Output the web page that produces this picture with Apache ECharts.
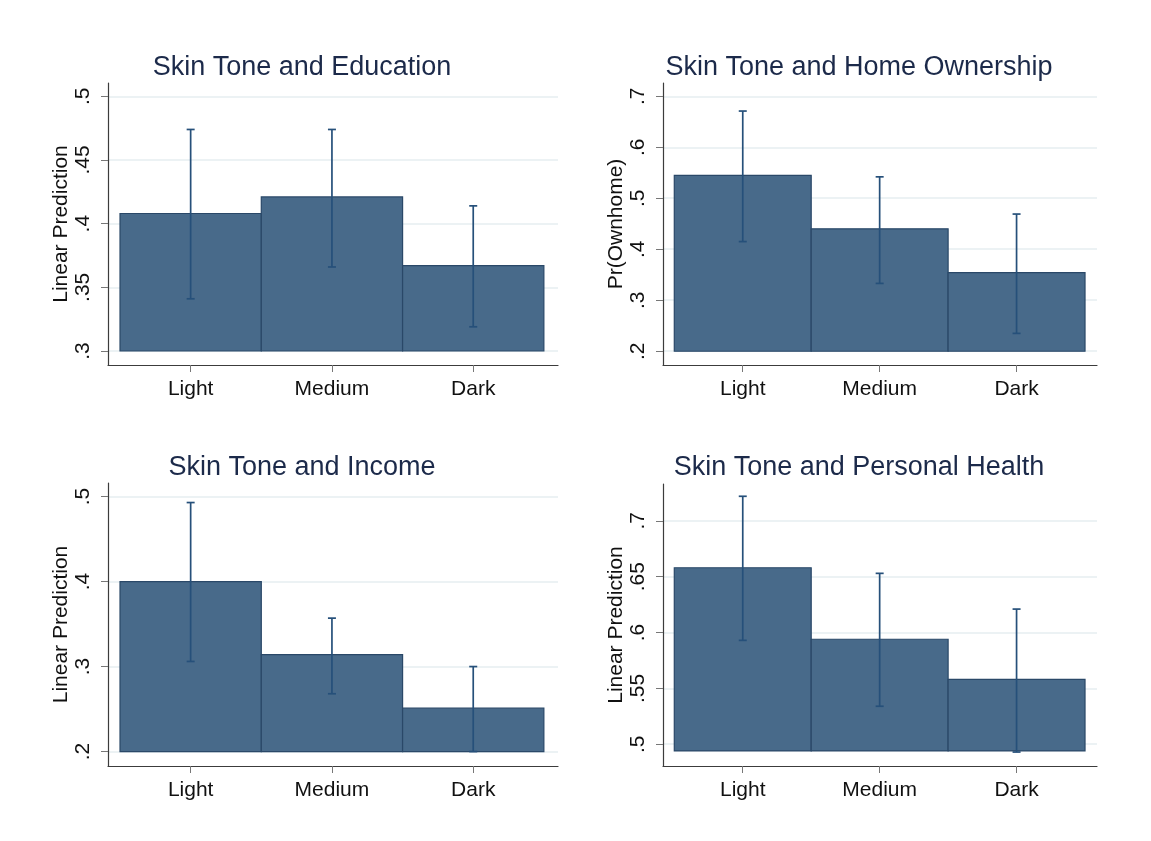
<!DOCTYPE html>
<html>
<head>
<meta charset="utf-8">
<script src="https://cdn.jsdelivr.net/npm/echarts@6/dist/echarts.min.js"></script>
<style>
html,body{margin:0;padding:0;background:#fff;}
#chart{width:1151px;height:841px;}
</style>
</head>
<body>
<div id="chart"></div>
<script>
// ---- data ----
var categories = ['Light', 'Medium', 'Dark'];

var eduMean = [0.408, 0.421, 0.367];
var eduLow  = [0.341, 0.366, 0.319];
var eduHigh = [0.474, 0.474, 0.414];
var eduTicks = [0.3, 0.35, 0.4, 0.45, 0.5];
var eduBase = 0.3;

var homeMean = [0.545, 0.440, 0.354];
var homeLow  = [0.415, 0.333, 0.235];
var homeHigh = [0.671, 0.542, 0.469];
var homeTicks = [0.2, 0.3, 0.4, 0.5, 0.6, 0.7];
var homeBase = 0.2;

var incMean = [0.400, 0.314, 0.251];
var incLow  = [0.306, 0.268, 0.200];
var incHigh = [0.493, 0.357, 0.300];
var incTicks = [0.2, 0.3, 0.4, 0.5];
var incBase = 0.2;

var healthMean = [0.658, 0.594, 0.558];
var healthLow  = [0.593, 0.534, 0.493];
var healthHigh = [0.722, 0.653, 0.621];
var healthTicks = [0.5, 0.55, 0.6, 0.65, 0.7];
var healthBase = 0.494;

var titles = ['Skin Tone and Education', 'Skin Tone and Home Ownership', 'Skin Tone and Income', 'Skin Tone and Personal Health'];
var yTitles = ['Linear Prediction', 'Pr(Ownhome)', 'Linear Prediction', 'Linear Prediction'];

// ---- styling / layout ----
var FONT = '"Liberation Sans", Arial, Helvetica, sans-serif';
var BAR_FILL = '#486a8a';
var BAR_EDGE = '#2a4868';
var ERR_COLOR = '#26507a';
var TITLE_COLOR = '#1c2a4a';

var panels = [
  {mean: eduMean, low: eduLow, high: eduHigh, ticks: eduTicks, base: eduBase,
   grid: {left: 108, top: 83, width: 450, height: 282}, ymin: 0.289, ymax: 0.5105, xmin: -0.585, xmax: 2.6,
   title: {left: 297, top: 49}},
  {mean: homeMean, low: homeLow, high: homeHigh, ticks: homeTicks, base: homeBase,
   grid: {left: 663, top: 83, width: 434, height: 282}, ymin: 0.173, ymax: 0.726, xmin: -0.5825, xmax: 2.5875,
   title: {left: 854, top: 49}},
  {mean: incMean, low: incLow, high: incHigh, ticks: incTicks, base: incBase,
   grid: {left: 108, top: 483, width: 450, height: 283}, ymin: 0.183, ymax: 0.516, xmin: -0.585, xmax: 2.6,
   title: {left: 297, top: 449}},
  {mean: healthMean, low: healthLow, high: healthHigh, ticks: healthTicks, base: healthBase,
   grid: {left: 663, top: 484, width: 434, height: 282}, ymin: 0.4805, ymax: 0.733, xmin: -0.5825, xmax: 2.5875,
   title: {left: 854, top: 449}}
];

function fmtTick(v) {
  var s = String(Math.round(v * 100) / 100);
  return s.replace(/^0\./, '.');
}

function renderBar(params, api) {
  var x = api.value(0), v = api.value(1), b = api.value(2);
  var p1 = api.coord([x - 0.5, v]);
  var p2 = api.coord([x + 0.5, b]);
  return {
    type: 'rect',
    shape: {x: p1[0], y: p1[1], width: p2[0] - p1[0], height: p2[1] - p1[1]},
    style: {fill: BAR_FILL, stroke: BAR_EDGE, lineWidth: 1.2}
  };
}

function renderErr(params, api) {
  var x = api.value(0), lo = api.value(1), hi = api.value(2);
  var pl = api.coord([x, lo]);
  var ph = api.coord([x, hi]);
  var hw = 4;
  var st = {stroke: ERR_COLOR, lineWidth: 1.7, fill: null};
  return {
    type: 'group',
    children: [
      {type: 'line', shape: {x1: pl[0], y1: pl[1], x2: ph[0], y2: ph[1]}, style: st},
      {type: 'line', shape: {x1: pl[0] - hw, y1: pl[1], x2: pl[0] + hw, y2: pl[1]}, style: st},
      {type: 'line', shape: {x1: ph[0] - hw, y1: ph[1], x2: ph[0] + hw, y2: ph[1]}, style: st}
    ]
  };
}

var option = {
  backgroundColor: '#ffffff',
  animation: false,
  title: [],
  grid: [],
  xAxis: [],
  yAxis: [],
  series: []
};

panels.forEach(function (p, i) {
  option.title.push({
    text: titles[i],
    left: p.title.left,
    top: p.title.top,
    textAlign: 'center',
    textStyle: {fontFamily: FONT, fontSize: 27, fontWeight: 'normal', color: TITLE_COLOR}
  });
  option.grid.push(p.grid);
  option.xAxis.push({
    type: 'value',
    gridIndex: i,
    min: p.xmin,
    max: p.xmax,
    axisLine: {show: true, onZero: false, lineStyle: {color: '#3c3c3c', width: 1.2}},
    axisTick: {show: true, length: 7, customValues: [0, 1, 2], lineStyle: {color: '#777'}},
    axisLabel: {show: true, customValues: [0, 1, 2], margin: 14,
      formatter: function (v) { return categories[Math.round(v)]; },
      fontFamily: FONT, fontSize: 21, color: '#111'},
    splitLine: {show: false}
  });
  option.yAxis.push({
    type: 'value',
    gridIndex: i,
    min: p.ymin,
    max: p.ymax,
    name: yTitles[i],
    nameLocation: 'middle',
    nameGap: 36,
    nameTextStyle: {fontFamily: FONT, fontSize: 21, color: '#111'},
    axisLine: {show: true, onZero: false, lineStyle: {color: '#3c3c3c', width: 1.2}},
    axisTick: {show: true, length: 7, customValues: p.ticks, lineStyle: {color: '#777'}},
    axisLabel: {show: true, customValues: p.ticks, rotate: 90, margin: 14,
      formatter: fmtTick, fontFamily: FONT, fontSize: 21, color: '#111'},
    splitLine: {show: true, lineStyle: {color: '#e6eef1', width: 1.5}}
  });
  option.series.push({
    type: 'custom',
    xAxisIndex: i,
    yAxisIndex: i,
    renderItem: renderBar,
    clip: false,
    z: 2,
    data: categories.map(function (c, k) { return [k, p.mean[k], p.base]; })
  });
  option.series.push({
    type: 'custom',
    xAxisIndex: i,
    yAxisIndex: i,
    renderItem: renderErr,
    clip: false,
    z: 3,
    data: categories.map(function (c, k) { return [k, p.low[k], p.high[k]]; })
  });
});

var chart = echarts.init(document.getElementById('chart'), null, {renderer: 'canvas'});
chart.setOption(option);
</script>
</body>
</html>
